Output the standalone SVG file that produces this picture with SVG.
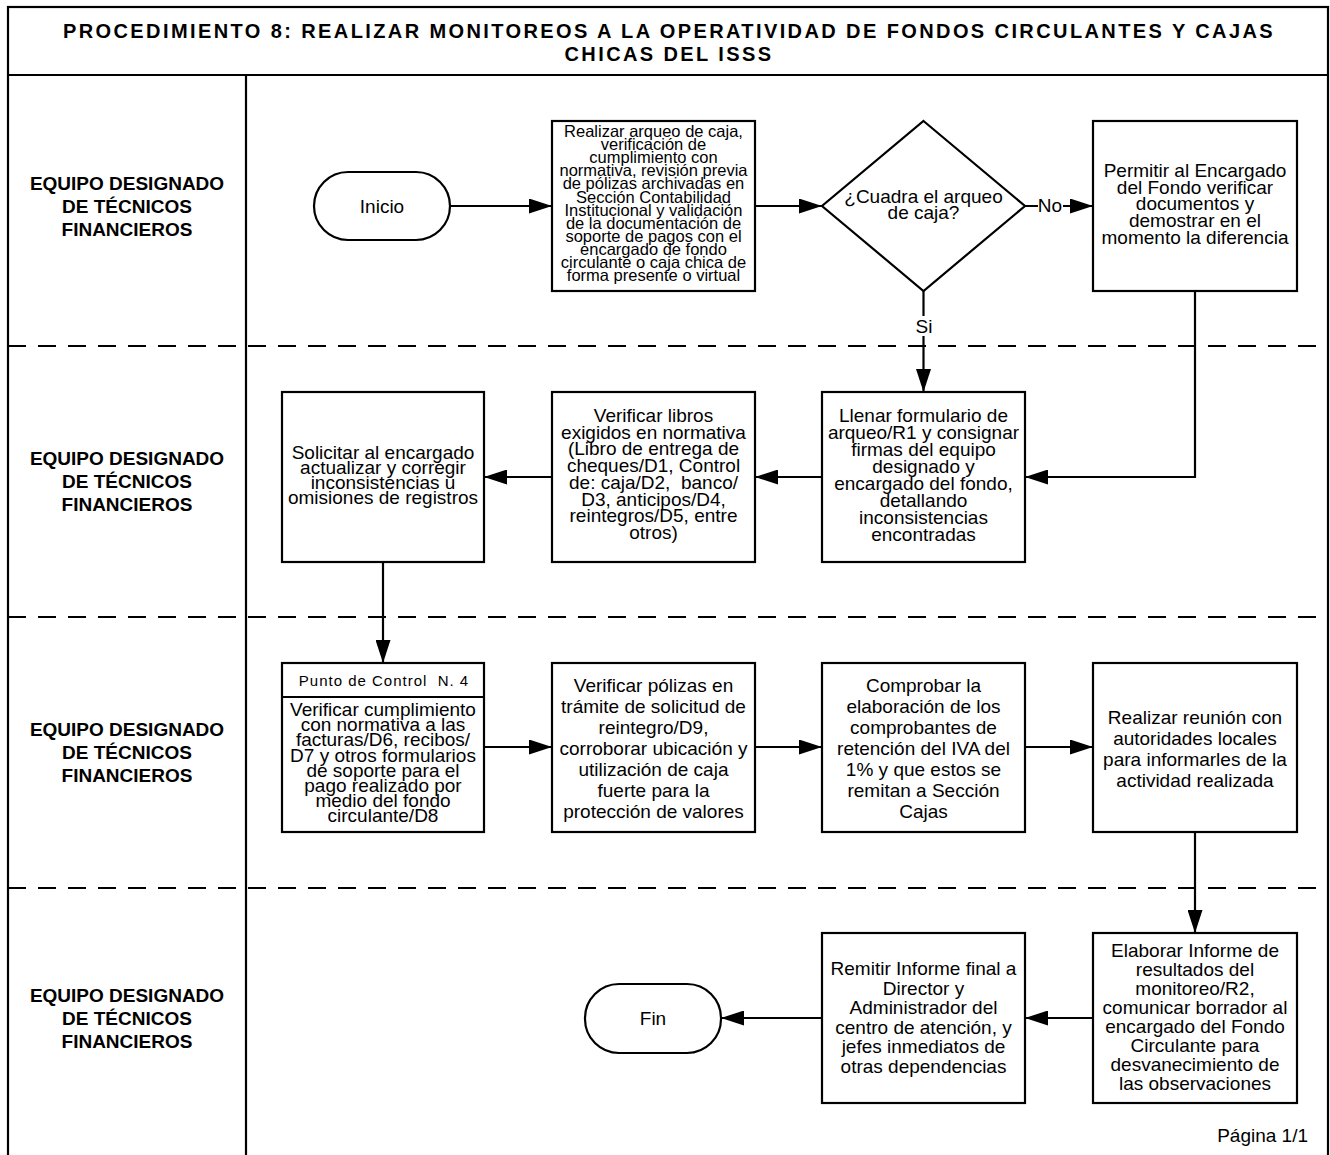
<svg xmlns="http://www.w3.org/2000/svg" width="1330" height="1155" viewBox="0 0 1330 1155">
<style>
text{font-family:"Liberation Sans",Arial,sans-serif;fill:#000;text-anchor:middle}
.t{font-size:19px}
.s{font-size:16.5px}
.h{font-size:15px;letter-spacing:1px}
.lane{font-size:19px;font-weight:bold}
.title{font-size:20px;font-weight:bold;letter-spacing:2.4px}
.box{fill:#fff;stroke:#000;stroke-width:2.2}
.frame{fill:none;stroke:#000;stroke-width:2.2}
.dash{stroke:#000;stroke-width:2.2;stroke-dasharray:18 12;fill:none}
.c{fill:none;stroke:#000;stroke-width:2.2}
</style>
<defs>
<marker id="ah" markerWidth="23" markerHeight="15" refX="23" refY="7.5" orient="auto" markerUnits="userSpaceOnUse"><path d="M0,0 L23,7.5 L0,15 z" fill="#000"/></marker>
</defs>
<rect width="1330" height="1155" fill="#fff"/>
<g id="frame">
<rect class="frame" x="8" y="7" width="1320" height="1160"/>
<line class="frame" x1="8" y1="75" x2="1328" y2="75"/>
<line class="frame" x1="246" y1="75" x2="246" y2="1160"/>
<line class="dash" x1="8" y1="346" x2="1328" y2="346"/>
<line class="dash" x1="8" y1="617" x2="1328" y2="617"/>
<line class="dash" x1="8" y1="888" x2="1328" y2="888"/>
</g>
<g id="title">
<text class="title" x="669" y="38">PROCEDIMIENTO 8: REALIZAR MONITOREOS A LA OPERATIVIDAD DE FONDOS CIRCULANTES Y CAJAS</text>
<text class="title" x="669" y="61">CHICAS DEL ISSS</text>
</g>
<g id="lanes">
<text class="lane"><tspan x="127" y="190">EQUIPO DESIGNADO</tspan><tspan x="127" y="213">DE TÉCNICOS</tspan><tspan x="127" y="236">FINANCIEROS</tspan></text>
<text class="lane"><tspan x="127" y="465">EQUIPO DESIGNADO</tspan><tspan x="127" y="488">DE TÉCNICOS</tspan><tspan x="127" y="511">FINANCIEROS</tspan></text>
<text class="lane"><tspan x="127" y="736">EQUIPO DESIGNADO</tspan><tspan x="127" y="759">DE TÉCNICOS</tspan><tspan x="127" y="782">FINANCIEROS</tspan></text>
<text class="lane"><tspan x="127" y="1002">EQUIPO DESIGNADO</tspan><tspan x="127" y="1025">DE TÉCNICOS</tspan><tspan x="127" y="1048">FINANCIEROS</tspan></text>
</g>
<g id="connectors">
<path class="c" d="M450,206 H552" marker-end="url(#ah)"/>
<path class="c" d="M755,206 H822" marker-end="url(#ah)"/>
<path class="c" d="M1025,206 H1093" marker-end="url(#ah)"/>
<rect x="1038" y="196" width="25" height="20" fill="#fff"/>
<text class="t" x="1050" y="212">No</text>
<path class="c" d="M923.5,291 V392" marker-end="url(#ah)"/>
<rect x="914" y="316" width="20" height="20" fill="#fff"/>
<text class="t" x="924" y="333">Si</text>
<path class="c" d="M1195,291 V477 H1025" marker-end="url(#ah)"/>
<path class="c" d="M822,477 H755" marker-end="url(#ah)"/>
<path class="c" d="M552,477 H484" marker-end="url(#ah)"/>
<path class="c" d="M383,562 V663" marker-end="url(#ah)"/>
<path class="c" d="M484,747 H552" marker-end="url(#ah)"/>
<path class="c" d="M755,747 H822" marker-end="url(#ah)"/>
<path class="c" d="M1025,747 H1093" marker-end="url(#ah)"/>
<path class="c" d="M1195,832 V933" marker-end="url(#ah)"/>
<path class="c" d="M1093,1018 H1025" marker-end="url(#ah)"/>
<path class="c" d="M822,1018 H721" marker-end="url(#ah)"/>
</g>
<g id="inicio">
<rect class="box" x="314" y="172" width="136" height="68" rx="34" ry="34"/>
<text class="t" x="382" y="213">Inicio</text>
</g>
<g id="arqueo">
<rect class="box" x="552" y="121" width="203" height="170"/>
<text class="s"><tspan x="653.5" y="137">Realizar arqueo de caja,</tspan><tspan x="653.5" y="150.1">verificación de</tspan><tspan x="653.5" y="163.2">cumplimiento con</tspan><tspan x="653.5" y="176.3">normativa, revisión previa</tspan><tspan x="653.5" y="189.4">de pólizas archivadas en</tspan><tspan x="653.5" y="202.5">Sección Contabilidad</tspan><tspan x="653.5" y="215.6">Institucional y validación</tspan><tspan x="653.5" y="228.7">de la documentación de</tspan><tspan x="653.5" y="241.8">soporte de pagos con el</tspan><tspan x="653.5" y="254.9">encargado de fondo</tspan><tspan x="653.5" y="268">circulante o caja chica de</tspan><tspan x="653.5" y="281.1">forma presente o virtual</tspan></text>
</g>
<g id="decision">
<polygon class="box" points="923.5,121 1025,206 923.5,291 822,206"/>
<text class="t"><tspan x="923.5" y="203">¿Cuadra el arqueo</tspan><tspan x="923.5" y="219">de caja?</tspan></text>
</g>
<g id="permitir">
<rect class="box" x="1093" y="121" width="204" height="170"/>
<text class="t"><tspan x="1195" y="177">Permitir al Encargado</tspan><tspan x="1195" y="193.7">del Fondo verificar</tspan><tspan x="1195" y="210.4">documentos y</tspan><tspan x="1195" y="227.1">demostrar en el</tspan><tspan x="1195" y="243.8">momento la diferencia</tspan></text>
</g>
<g id="llenar">
<rect class="box" x="822" y="392" width="203" height="170"/>
<text class="t"><tspan x="923.5" y="422">Llenar formulario de</tspan><tspan x="923.5" y="439">arqueo/R1 y consignar</tspan><tspan x="923.5" y="456">firmas del equipo</tspan><tspan x="923.5" y="473">designado y</tspan><tspan x="923.5" y="490">encargado del fondo,</tspan><tspan x="923.5" y="507">detallando</tspan><tspan x="923.5" y="524">inconsistencias</tspan><tspan x="923.5" y="541">encontradas</tspan></text>
</g>
<g id="libros">
<rect class="box" x="552" y="392" width="203" height="170"/>
<text class="t"><tspan x="653.5" y="422">Verificar libros</tspan><tspan x="653.5" y="438.7">exigidos en normativa</tspan><tspan x="653.5" y="455.4">(Libro de entrega de</tspan><tspan x="653.5" y="472.1">cheques/D1, Control</tspan><tspan x="653.5" y="488.8">de: caja/D2,&#160; banco/</tspan><tspan x="653.5" y="505.5">D3, anticipos/D4,</tspan><tspan x="653.5" y="522.2">reintegros/D5, entre</tspan><tspan x="653.5" y="538.9">otros)</tspan></text>
</g>
<g id="solicitar">
<rect class="box" x="282" y="392" width="202" height="170"/>
<text class="t"><tspan x="383" y="459">Solicitar al encargado</tspan><tspan x="383" y="474">actualizar y corregir</tspan><tspan x="383" y="489">inconsistencias u</tspan><tspan x="383" y="504">omisiones de registros</tspan></text>
</g>
<g id="punto-control">
<rect class="box" x="282" y="663" width="202" height="169"/>
<line class="c" x1="282" y1="697" x2="484" y2="697"/>
<text class="h" x="384" y="686">Punto de Control&#160; N. 4</text>
<text class="t"><tspan x="383" y="716">Verificar cumplimiento</tspan><tspan x="383" y="731.2">con normativa a las</tspan><tspan x="383" y="746.4">facturas/D6, recibos/</tspan><tspan x="383" y="761.6">D7 y otros formularios</tspan><tspan x="383" y="776.8">de soporte para el</tspan><tspan x="383" y="792">pago realizado por</tspan><tspan x="383" y="807.2">medio del fondo</tspan><tspan x="383" y="822.4">circulante/D8</tspan></text>
</g>
<g id="polizas">
<rect class="box" x="552" y="663" width="203" height="169"/>
<text class="t"><tspan x="653.5" y="692">Verificar pólizas en</tspan><tspan x="653.5" y="713">trámite de solicitud de</tspan><tspan x="653.5" y="734">reintegro/D9,</tspan><tspan x="653.5" y="755">corroborar ubicación y</tspan><tspan x="653.5" y="776">utilización de caja</tspan><tspan x="653.5" y="797">fuerte para la</tspan><tspan x="653.5" y="818">protección de valores</tspan></text>
</g>
<g id="comprobar">
<rect class="box" x="822" y="663" width="203" height="169"/>
<text class="t"><tspan x="923.5" y="692">Comprobar la</tspan><tspan x="923.5" y="713">elaboración de los</tspan><tspan x="923.5" y="734">comprobantes de</tspan><tspan x="923.5" y="755">retención del IVA del</tspan><tspan x="923.5" y="776">1% y que estos se</tspan><tspan x="923.5" y="797">remitan a Sección</tspan><tspan x="923.5" y="818">Cajas</tspan></text>
</g>
<g id="reunion">
<rect class="box" x="1093" y="663" width="204" height="169"/>
<text class="t"><tspan x="1195" y="724">Realizar reunión con</tspan><tspan x="1195" y="745">autoridades locales</tspan><tspan x="1195" y="766">para informarles de la</tspan><tspan x="1195" y="787">actividad realizada</tspan></text>
</g>
<g id="elaborar">
<rect class="box" x="1093" y="933" width="204" height="170"/>
<text class="t"><tspan x="1195" y="957">Elaborar Informe de</tspan><tspan x="1195" y="976">resultados del</tspan><tspan x="1195" y="995">monitoreo/R2,</tspan><tspan x="1195" y="1014">comunicar borrador al</tspan><tspan x="1195" y="1033">encargado del Fondo</tspan><tspan x="1195" y="1052">Circulante para</tspan><tspan x="1195" y="1071">desvanecimiento de</tspan><tspan x="1195" y="1090">las observaciones</tspan></text>
</g>
<g id="remitir">
<rect class="box" x="822" y="933" width="203" height="170"/>
<text class="t"><tspan x="923.5" y="975">Remitir Informe final a</tspan><tspan x="923.5" y="994.5">Director y</tspan><tspan x="923.5" y="1014">Administrador del</tspan><tspan x="923.5" y="1033.5">centro de atención, y</tspan><tspan x="923.5" y="1053">jefes inmediatos de</tspan><tspan x="923.5" y="1072.5">otras dependencias</tspan></text>
</g>
<g id="fin">
<rect class="box" x="585" y="984" width="136" height="69" rx="34" ry="34"/>
<text class="t" x="653" y="1025">Fin</text>
</g>
<g id="pagina">
<text class="t" x="1308" y="1142" style="text-anchor:end">Página 1/1</text>
</g>
</svg>
